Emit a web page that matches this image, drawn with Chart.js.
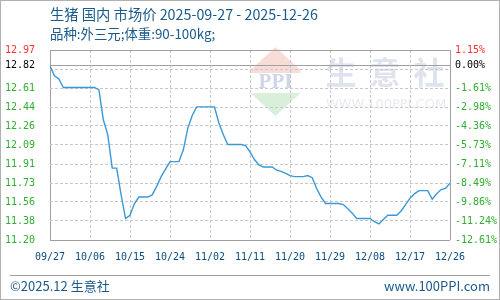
<!DOCTYPE html>
<html>
<head>
<meta charset="utf-8">
<script src="https://cdn.jsdelivr.net/npm/chart.js@4/dist/chart.umd.min.js"></script>
<style>
html,body{margin:0;padding:0;background:#fff;}
#wrap{width:500px;height:300px;position:relative;}
canvas{display:block;}
</style>
</head>
<body>
<div id="wrap"><canvas id="c" width="500" height="300"></canvas></div>
<script>
// ---- data ----
const titleText = "生猪 国内 市场价 2025-09-27 - 2025-12-26";
const subtitleText = "品种:外三元;体重:90-100kg;";
const footerLeft = "©2025.12 生意社";
const footerRight = "www.100PPI.com";

// day index (0 = 09/27) for each x tick, and its label
const xTickDays = [0, 9, 18, 27, 36, 45, 54, 63, 72, 81, 90];
const xTickLabels = ["09/27","10/06","10/15","10/24","11/02","11/11","11/20","11/29","12/08","12/17","12/26"];

// price per day, 09/27 .. 12/26 (91 days)
const prices = [
  12.82, 12.73, 12.70, 12.62, 12.62, 12.62, 12.62, 12.62, 12.62, 12.62,
  12.62, 12.60, 12.32, 12.18, 11.87, 11.87, 11.62, 11.40, 11.43, 11.54,
  11.60, 11.60, 11.60, 11.62, 11.70, 11.79, 11.86, 11.93, 11.93, 11.93,
  12.04, 12.24, 12.36, 12.44, 12.44, 12.44, 12.44, 12.44, 12.29, 12.18,
  12.09, 12.09, 12.09, 12.09, 12.08, 12.02, 11.95, 11.90, 11.88, 11.88,
  11.88, 11.85, 11.84, 11.82, 11.80, 11.79, 11.79, 11.79, 11.80, 11.78,
  11.68, 11.60, 11.54, 11.54, 11.54, 11.54, 11.53, 11.49, 11.45, 11.40,
  11.40, 11.40, 11.40, 11.37, 11.35, 11.39, 11.43, 11.43, 11.43, 11.47,
  11.53, 11.59, 11.63, 11.66, 11.66, 11.66, 11.58, 11.63, 11.67, 11.68,
  11.73
];

const yMin = 11.20;
const yMax = 12.97;
const baseValue = 12.823;
// y tick values and labels (left: price, right: change vs base)
const yTickValues = [11.20, 11.377, 11.554, 11.731, 11.908, 12.085, 12.262, 12.439, 12.616, 12.793, 12.823, 12.97];
const yTickLabels = ["11.20","11.38","11.56","11.73","11.91","12.09","12.26","12.44","12.61","","12.82","12.97"];
const pctTickLabels = ["-12.61%","-11.24%","-9.86%","-8.49%","-7.11%","-5.73%","-4.36%","-2.98%","-1.61%","","0.00%","1.15%"];

// ---- styles ----
const GREEN = "#2fae2f", RED = "#ff2e2e", BLACK = "#000000";
const FRAME = "#a0a0a0", GRID = "#c8c8c8";
const TEXTBLUE = "#1b5a8c";
const LINE = "#3a98d8";
const tickFont = {family: "'DejaVu Sans Mono', monospace", size: 10};
const cjk = "'Noto Sans CJK SC', 'Noto Sans', sans-serif";

function tickColor(ctx) {
  const v = yTickValues[ctx.index];
  if (v === undefined) return GREEN;
  if (Math.abs(v - baseValue) < 1e-6) return BLACK;
  if (v > baseValue) return RED;
  return GREEN;
}

const decor = {
  id: 'decor',
  beforeDraw(chart) {
    const c = chart.ctx;
    c.save();
    c.fillStyle = "#ffffff";
    c.fillRect(0, 0, chart.width, chart.height);
    // watermark logo
    const cx = 275.5;
    c.fillStyle = "#f8dcd7";
    c.beginPath();
    c.moveTo(cx, 47); c.lineTo(cx + 25, 70); c.lineTo(cx + 25, 73); c.lineTo(cx - 25, 73); c.lineTo(cx - 25, 70);
    c.closePath(); c.fill();
    c.fillStyle = "#d9efda";
    c.beginPath();
    c.moveTo(cx - 25, 93); c.lineTo(cx + 25, 93); c.lineTo(cx, 116);
    c.closePath(); c.fill();
    c.fillStyle = "#cdd6ea";
    c.font = "bold 21px 'Liberation Serif', serif";
    c.textAlign = "center"; c.textBaseline = "middle";
    c.fillText("PPI", cx, 83);
    // watermark text
    c.fillStyle = "#dfe3ed";
    c.font = "bold 31px " + cjk;
    c.fillText("生", 341, 72);
    c.fillText("意", 385, 72);
    c.fillText("社", 429, 72);
    c.fillStyle = "#e8ebf1";
    c.font = "13px 'DejaVu Sans', sans-serif";
    c.fillText("WWW.100PPI.COM", 386, 105);
    c.restore();
  },
  afterDraw(chart) {
    const c = chart.ctx;
    c.save();
    c.fillStyle = TEXTBLUE;
    c.textBaseline = "middle";
    c.textAlign = "left";
    c.font = "14.3px " + cjk;
    c.fillText(titleText, 50, 15);
    c.font = "13.4px " + cjk;
    c.fillText(subtitleText, 50, 34);
    // footer
    c.strokeStyle = "#a0a0a0";
    c.lineWidth = 1;
    c.beginPath(); c.moveTo(10, 275.5); c.lineTo(490, 275.5); c.stroke();
    c.font = "13px " + cjk;
    c.fillText(footerLeft, 10, 286);
    c.textAlign = "right";
    c.fillText(footerRight, 490, 286);
    // outer border
    c.strokeStyle = "#b0b0b0";
    c.strokeRect(0.5, 0.5, 499, 299);
    c.restore();
  }
};

new Chart(document.getElementById('c'), {
  type: 'line',
  data: {
    datasets: [{
      data: prices.map((p, i) => ({x: i, y: p})),
      borderColor: LINE,
      borderWidth: 1.4,
      pointRadius: 0,
      tension: 0,
      fill: false,
      yAxisID: 'y'
    }]
  },
  options: {
    responsive: false,
    animation: false,
    events: [],
    layout: {padding: {top: 50, left: 0, right: 0, bottom: 0}},
    plugins: {legend: {display: false}, tooltip: {enabled: false}, title: {display: false}},
    scales: {
      x: {
        type: 'linear', min: 0, max: 90,
        afterBuildTicks: s => { s.ticks = xTickDays.map(v => ({value: v})); },
        afterFit: s => { s.height = 60; },
        ticks: {
          autoSkip: false, maxRotation: 0, padding: 11,
          color: "#0b4d7e", font: tickFont,
          callback: (v, i) => xTickLabels[i]
        },
        grid: {
          drawTicks: false,
          color: ctx => (ctx.index === 0 || ctx.index === xTickDays.length - 1) ? FRAME : GRID,
          lineWidth: 1
        },
        border: {display: false, dash: ctx => (ctx.index === 0 || ctx.index === xTickDays.length - 1) ? [] : [3, 2]}
      },
      y: {
        type: 'linear', position: 'left', min: yMin, max: yMax,
        afterBuildTicks: s => { s.ticks = yTickValues.map(v => ({value: v})); },
        afterFit: s => { s.width = 50; },
        ticks: {
          autoSkip: false, padding: 15, font: tickFont,
          color: tickColor,
          callback: (v, i) => yTickLabels[i]
        },
        grid: {
          drawTicks: false,
          color: ctx => {
            const v = yTickValues[ctx.index];
            return (ctx.index === 0 || ctx.index === yTickValues.length - 1 || Math.abs(v - baseValue) < 1e-6) ? FRAME : GRID;
          }
        },
        border: {display: false, dash: ctx => {
          const v = yTickValues[ctx.index];
          return (ctx.index === 0 || ctx.index === yTickValues.length - 1 || Math.abs(v - baseValue) < 1e-6) ? [] : [3, 2];
        }}
      },
      y2: {
        type: 'linear', position: 'right', min: yMin, max: yMax,
        afterBuildTicks: s => { s.ticks = yTickValues.map(v => ({value: v})); },
        afterFit: s => { s.width = 50; },
        ticks: {
          autoSkip: false, padding: 5, font: tickFont,
          color: tickColor,
          callback: (v, i) => pctTickLabels[i]
        },
        grid: {display: false, drawTicks: false},
        border: {display: false}
      }
    }
  },
  plugins: [decor]
});
</script>
</body>
</html>
